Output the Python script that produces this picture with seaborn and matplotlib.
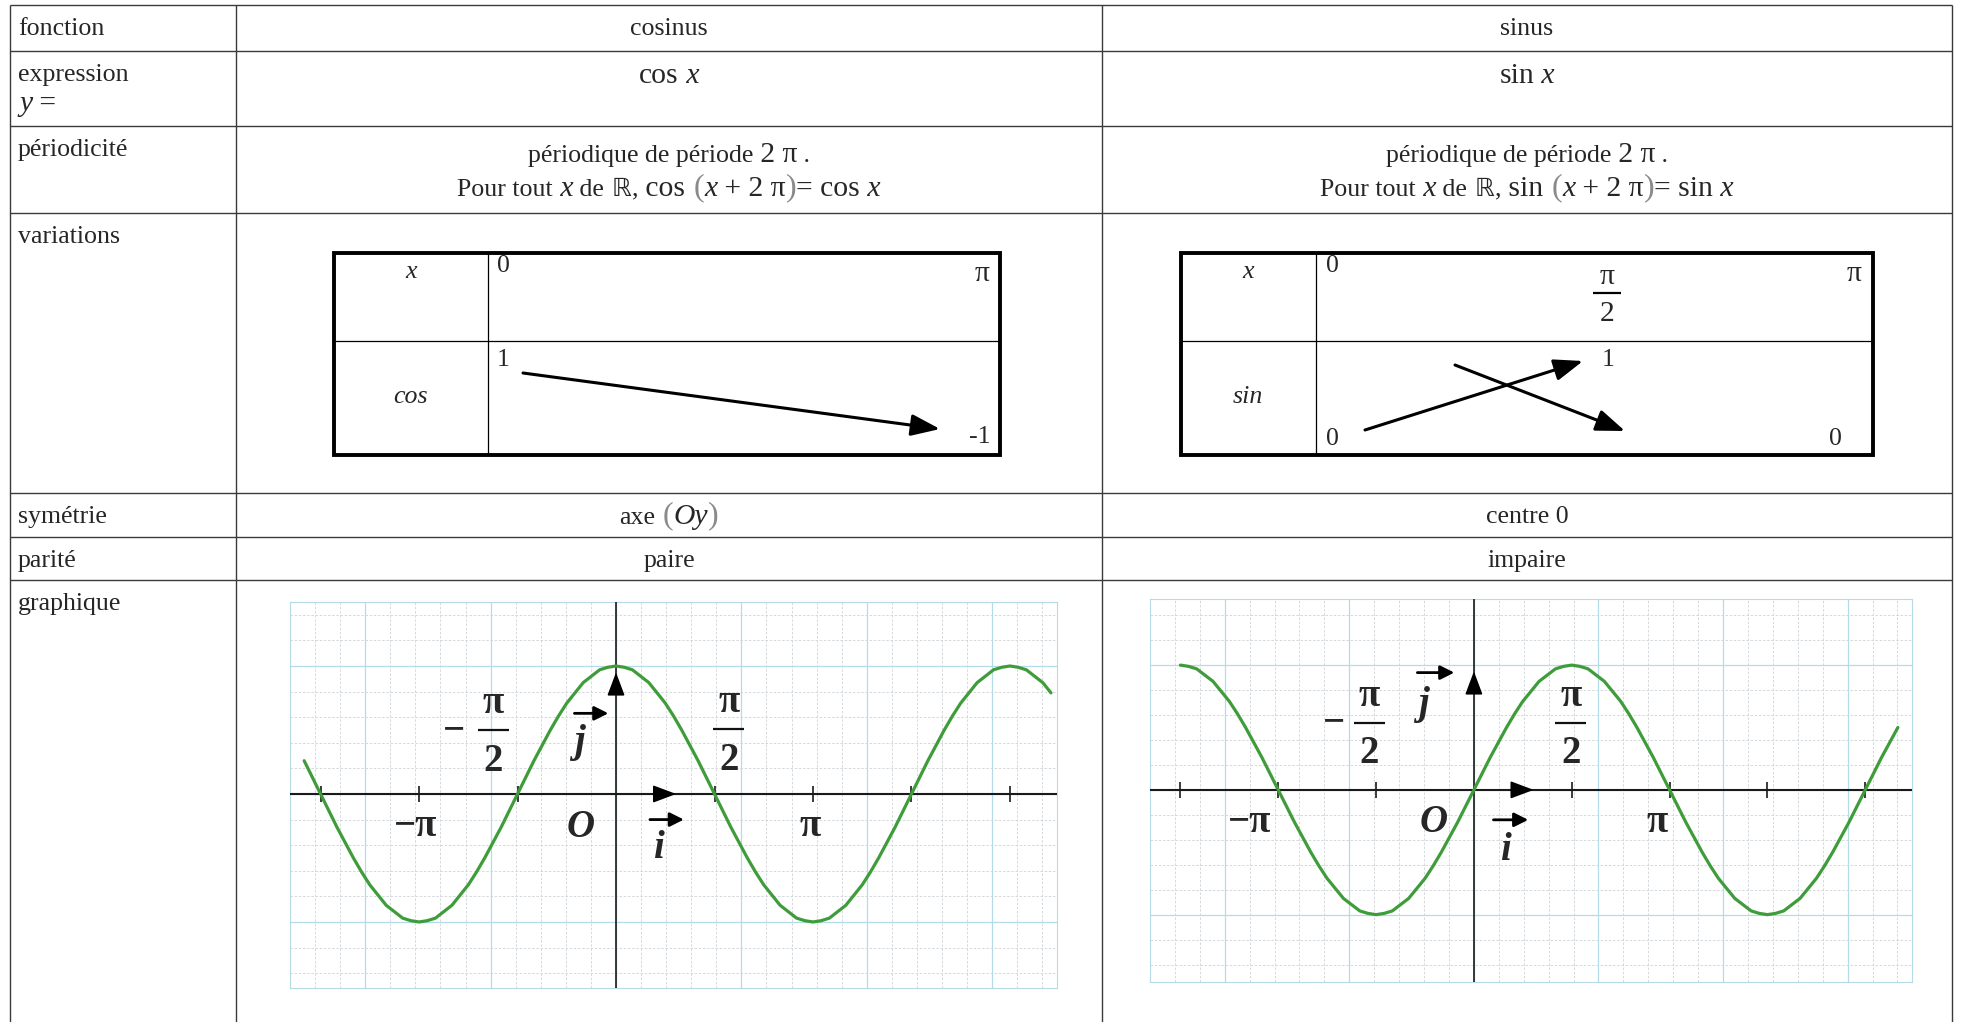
import numpy as np
import matplotlib
matplotlib.use("Agg")
import matplotlib.pyplot as plt
import seaborn as sns
from matplotlib.patches import Rectangle
from matplotlib.offsetbox import TextArea, HPacker, AnnotationBbox

# --- contenu du tableau ---
ROW_LABELS = ["fonction", "expression", "périodicité", "variations",
              "symétrie", "parité", "graphique"]
FUNC_NAMES = ["cosinus", "sinus"]
FUNC_EXPR = ["cos", "sin"]
SYMMETRY = ["axe", "centre 0"]
PARITY = ["paire", "impaire"]

# tableaux de variations
COS_VAR_X = ["0", "π"]
COS_VAR_VALUES = ["1", "-1"]
SIN_VAR_X = ["0", "π", "π"]        # 0, pi/2, pi
SIN_VAR_VALUES = ["0", "1", "0"]

# courbes (x en degrés)
COS_X = [-285, -277.5, -270, -262.5, -255, -247.5, -240, -232.5, -225, -217.5, -210, -202.5,
         -195, -187.5, -180, -172.5, -165, -157.5, -150, -142.5, -135, -127.5, -120, -112.5,
         -105, -97.5, -90, -82.5, -75, -67.5, -60, -52.5, -45, -37.5, -30, -22.5,
         -15, -7.5, 0, 7.5, 15, 22.5, 30, 37.5, 45, 52.5, 60, 67.5,
         75, 82.5, 90, 97.5, 105, 112.5, 120, 127.5, 135, 142.5, 150, 157.5,
         165, 172.5, 180, 187.5, 195, 202.5, 210, 217.5, 225, 232.5, 240, 247.5,
         255, 262.5, 270, 277.5, 285, 292.5, 300, 307.5, 315, 322.5, 330, 337.5,
         345, 352.5, 360, 367.5, 375, 382.5, 390, 397.5]
COS_Y = [0.26, 0.13, 0.0, -0.13, -0.26, -0.38, -0.5, -0.61, -0.71, -0.79, -0.87, -0.92,
         -0.97, -0.99, -1.0, -0.99, -0.97, -0.92, -0.87, -0.79, -0.71, -0.61, -0.5, -0.38,
         -0.26, -0.13, 0.0, 0.13, 0.26, 0.38, 0.5, 0.61, 0.71, 0.79, 0.87, 0.92,
         0.97, 0.99, 1.0, 0.99, 0.97, 0.92, 0.87, 0.79, 0.71, 0.61, 0.5, 0.38,
         0.26, 0.13, 0.0, -0.13, -0.26, -0.38, -0.5, -0.61, -0.71, -0.79, -0.87, -0.92,
         -0.97, -0.99, -1.0, -0.99, -0.97, -0.92, -0.87, -0.79, -0.71, -0.61, -0.5, -0.38,
         -0.26, -0.13, 0.0, 0.13, 0.26, 0.38, 0.5, 0.61, 0.71, 0.79, 0.87, 0.92,
         0.97, 0.99, 1.0, 0.99, 0.97, 0.92, 0.87, 0.79]
SIN_X = [-270, -262.5, -255, -247.5, -240, -232.5, -225, -217.5, -210, -202.5, -195, -187.5,
         -180, -172.5, -165, -157.5, -150, -142.5, -135, -127.5, -120, -112.5, -105, -97.5,
         -90, -82.5, -75, -67.5, -60, -52.5, -45, -37.5, -30, -22.5, -15, -7.5,
         0, 7.5, 15, 22.5, 30, 37.5, 45, 52.5, 60, 67.5, 75, 82.5,
         90, 97.5, 105, 112.5, 120, 127.5, 135, 142.5, 150, 157.5, 165, 172.5,
         180, 187.5, 195, 202.5, 210, 217.5, 225, 232.5, 240, 247.5, 255, 262.5,
         270, 277.5, 285, 292.5, 300, 307.5, 315, 322.5, 330, 337.5, 345, 352.5,
         360, 367.5, 375, 382.5, 390]
SIN_Y = [1.0, 0.99, 0.97, 0.92, 0.87, 0.79, 0.71, 0.61, 0.5, 0.38, 0.26, 0.13,
         0.0, -0.13, -0.26, -0.38, -0.5, -0.61, -0.71, -0.79, -0.87, -0.92, -0.97, -0.99,
         -1.0, -0.99, -0.97, -0.92, -0.87, -0.79, -0.71, -0.61, -0.5, -0.38, -0.26, -0.13,
         0.0, 0.13, 0.26, 0.38, 0.5, 0.61, 0.71, 0.79, 0.87, 0.92, 0.97, 0.99,
         1.0, 0.99, 0.97, 0.92, 0.87, 0.79, 0.71, 0.61, 0.5, 0.38, 0.26, 0.13,
         0.0, -0.13, -0.26, -0.38, -0.5, -0.61, -0.71, -0.79, -0.87, -0.92, -0.97, -0.99,
         -1.0, -0.99, -0.97, -0.92, -0.87, -0.79, -0.71, -0.61, -0.5, -0.38, -0.26, -0.13,
         0.0, 0.13, 0.26, 0.38, 0.5]
TICKS = [-270, -180, -90, 90, 180, 270, 360]

W, H = 1961, 1022
COL_X = [10, 236, 1102, 1952]
ROW_Y = [5, 51, 126, 213, 493, 537, 580]
LINE = "#3a3a3a"
GREEN = "#3f9c3a"
AXIS = "#1a1a1a"

sns.set_style("white")
SERIF = ["Liberation Serif", "DejaVu Serif"]
plt.rcParams["font.family"] = SERIF

R = dict(family=SERIF, fontsize=18.6)
M = dict(family=SERIF, fontsize=21.3)
MI = dict(family=SERIF, fontsize=21.3, fontstyle="italic")
BB = dict(family=["DejaVu Sans"], fontsize=18)
P = dict(family=SERIF, fontsize=23, color="#8a8a8a")


def rich(ax, x, y, parts, align=(0.5, 0.5)):
    boxes = [TextArea(s, textprops=p) for s, p in parts]
    pack = HPacker(children=boxes, align="baseline", pad=0, sep=0)
    ab = AnnotationBbox(pack, (x, y), xycoords="data", box_alignment=align,
                        frameon=False, pad=0)
    ax.add_artist(ab)


def arrow(ax, start, end, lw=1.6, ms=20, style="-|>,head_length=0.8,head_width=0.3", z=5):
    ax.annotate("", xy=end, xytext=start,
                arrowprops=dict(arrowstyle=style, color="black", lw=lw,
                                mutation_scale=ms, shrinkA=0, shrinkB=0), zorder=z)


fig = plt.figure(figsize=(W / 100, H / 100), dpi=100)
ax = fig.add_axes([0, 0, 1, 1])
ax.set_xlim(0, W)
ax.set_ylim(H, 0)
ax.axis("off")

# grille du tableau
ax.hlines(ROW_Y, COL_X[0], COL_X[-1], color=LINE, lw=1.0)
ax.vlines(COL_X, ROW_Y[0], H, color=LINE, lw=1.0)

for lbl, top in zip(ROW_LABELS, ROW_Y):
    ax.text(18, top + 30, lbl, va="baseline", **R)
rich(ax, 19, 104, [("y", MI), (" =", M)], align=(0, 0.5))

centers = [(COL_X[1] + COL_X[2]) / 2, (COL_X[2] + COL_X[3]) / 2]
for cx, name, f in zip(centers, FUNC_NAMES, FUNC_EXPR):
    ax.text(cx, 35, name, ha="center", va="baseline", **R)
    rich(ax, cx, 76, [(f, M), (" x", MI)])
    rich(ax, cx, 155, [("périodique de période", R), (" 2 π", M), (" .", R)])
    rich(ax, cx, 188, [("Pour tout", R), (" x", MI), (" de", R), (" ℝ", BB), (",", R),
                       (" " + f, M), (" (", P), ("x", MI), (" + 2 π", M), (")", P),
                       ("= " + f, M), (" x", MI)])

rich(ax, centers[0], 516, [(SYMMETRY[0], R), (" (", P), ("Oy", MI), (")", P)])
ax.text(centers[1], 523, SYMMETRY[1], ha="center", va="baseline", **R)
for cx, p in zip(centers, PARITY):
    ax.text(cx, 567, p, ha="center", va="baseline", **R)

# tableau de variations : cosinus
ax.add_patch(Rectangle((334, 253), 666, 202, fill=False, ec="black", lw=2.8))
ax.vlines(488, 253, 455, color="black", lw=0.9)
ax.hlines(341, 334, 1000, color="black", lw=0.9)
ax.text(411, 278, "x", ha="center", va="baseline", fontstyle="italic", **R)
ax.text(411, 403, "cos", ha="center", va="baseline", fontstyle="italic", **R)
ax.text(497, 272, COS_VAR_X[0], va="baseline", **R)
ax.text(990, 281, COS_VAR_X[1], ha="right", va="baseline", **M)
ax.text(497, 366, COS_VAR_VALUES[0], va="baseline", **R)
ax.text(990, 443, COS_VAR_VALUES[1], ha="right", va="baseline", **R)
arrow(ax, (523, 373), (940, 429), lw=2.2, ms=22)

# tableau de variations : sinus
ax.add_patch(Rectangle((1181, 253), 692, 202, fill=False, ec="black", lw=2.8))
ax.vlines(1316, 253, 455, color="black", lw=0.9)
ax.hlines(341, 1181, 1873, color="black", lw=0.9)
ax.text(1248, 278, "x", ha="center", va="baseline", fontstyle="italic", **R)
ax.text(1248, 403, "sin", ha="center", va="baseline", fontstyle="italic", **R)
ax.text(1326, 272, SIN_VAR_X[0], va="baseline", **R)
ax.text(1607, 284, SIN_VAR_X[1], ha="center", va="baseline", **M)
ax.hlines(293, 1593, 1621, color="black", lw=1.6)
ax.text(1607, 321, "2", ha="center", va="baseline", **M)
ax.text(1862, 281, SIN_VAR_X[2], ha="right", va="baseline", **M)
ax.text(1326, 445, SIN_VAR_VALUES[0], va="baseline", **R)
ax.text(1608, 366, SIN_VAR_VALUES[1], ha="center", va="baseline", **R)
ax.text(1835, 445, SIN_VAR_VALUES[2], ha="center", va="baseline", **R)
arrow(ax, (1365, 430), (1583, 361), lw=2.2, ms=22)
arrow(ax, (1455, 365), (1625, 431), lw=2.2, ms=22)

BOLD = dict(family=SERIF, fontsize=28, fontweight="bold")
BOLDI = dict(family=SERIF, fontsize=28, fontweight="bold", fontstyle="italic")


def draw_graph(box, x, y, xlim, ylim, px_unit, px_deg, lab):
    l, t, r, b = box
    g = fig.add_axes([l / W, 1 - b / H, (r - l) / W, (b - t) / H])
    g.set_xlim(*xlim)
    g.set_ylim(*ylim)
    step = np.degrees(2.0)
    g.set_xticks(np.arange(-2, 4) * step)
    g.set_xticks(np.arange(-13, 18) * step / 5, minor=True)
    g.set_yticks([-1, 0, 1])
    g.set_yticks(np.arange(-7, 8) * 0.2, minor=True)
    g.set_axisbelow(True)
    g.grid(which="major", color="#b3dbe8", lw=0.9)
    g.grid(which="minor", color="#cdd3d8", lw=0.6, ls=(0, (3, 2)))
    g.tick_params(which="both", length=0, labelbottom=False, labelleft=False)
    for s in g.spines.values():
        s.set_color("#b7dbe6")
        s.set_linewidth(0.8)
    g.axhline(0, color=AXIS, lw=1.5, zorder=3)
    g.axvline(0, color=AXIS, lw=1.2, zorder=3)
    g.vlines(TICKS, -0.065, 0.065, color=AXIS, lw=1.2, zorder=3)
    arrow(g, (34, 0), (55, 0), lw=1.2, ms=18)
    arrow(g, (0, 0.78), (0, 0.95), lw=1.2, ms=18)
    sns.lineplot(x=x, y=y, ax=g, color=GREEN, lw=2.3, zorder=4)

    g.text(lab["mpi"][0], lab["mpi"][1], "−π", ha="center", va="baseline", **BOLD)
    g.text(lab["pi"][0], lab["pi"][1], "π", ha="center", va="baseline", **BOLD)
    g.text(lab["O"][0], lab["O"][1], "O", ha="center", va="baseline", **BOLDI)
    g.text(lab["i"][0], lab["i"][1], "i", ha="center", va="baseline", **BOLDI)
    g.text(lab["j"][0], lab["j"][1], "j", ha="center", va="baseline", **BOLDI)
    vec = "-|>,head_length=0.6,head_width=0.3"
    arrow(g, lab["iv"][0], lab["iv"][1], lw=2.0, ms=14, style=vec)
    arrow(g, lab["jv"][0], lab["jv"][1], lw=2.0, ms=14, style=vec)
    mx, my = lab["minus"]
    g.text(mx, my - 10 / px_unit, "−", ha="center", va="baseline", **BOLD)
    for fx, fy in lab["frac"]:
        g.text(fx, fy + 17 / px_unit, "π", ha="center", va="baseline", **BOLD)
        g.hlines(fy, fx - 16 / px_deg, fx + 16 / px_deg, color="#111111", lw=1.6)
        g.text(fx, fy - 41 / px_unit, "2", ha="center", va="baseline", **BOLD)
    return g


COS_LAB = {"mpi": (-183, -0.33), "pi": (177, -0.33), "O": (-32, -0.34),
           "i": (39, -0.50), "j": (-33, 0.33),
           "iv": ((31, -0.2), (62, -0.2)), "jv": ((-38, 0.63), (-7, 0.63)),
           "minus": (-148, 0.5), "frac": [(-112, 0.5), (103, 0.51)]}
SIN_LAB = {"mpi": (-206, -0.34), "pi": (169, -0.34), "O": (-37, -0.34),
           "i": (29, -0.56), "j": (-46, 0.61),
           "iv": ((18, -0.24), (50, -0.24)), "jv": ((-52, 0.94), (-18, 0.94)),
           "minus": (-129, 0.54), "frac": [(-96, 0.54), (89, 0.54)]}

draw_graph((290, 602, 1057, 988), COS_X, COS_Y, (-287, 403), (-1.516, 1.5),
           128, 1.111, COS_LAB)
draw_graph((1150, 599, 1912, 982), SIN_X, SIN_Y, (-289, 403), (-1.54, 1.53),
           125, 1.101, SIN_LAB)

fig.savefig("out.png", dpi=100)
